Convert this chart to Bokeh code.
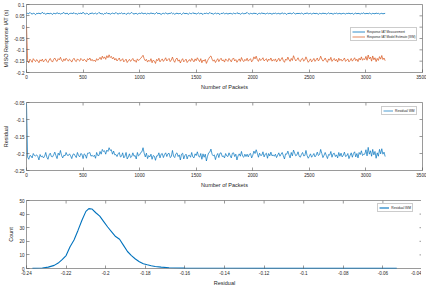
from bokeh.plotting import figure
from bokeh.layouts import column
from bokeh.models import FixedTicker, Range1d, Legend, LegendItem, ColumnDataSource
from bokeh.embed import file_html
from bokeh.resources import INLINE

# ---------------- data ----------------
packet_step = 10
estimate = [
    0.008, -0.150, -0.158, -0.141, -0.147, -0.155, -0.139, -0.146, -0.152, -0.143, -0.149, -0.157, -0.144, -0.150, -0.141, -0.153, -0.147, -0.140, -0.151, -0.156,
    -0.145, -0.138, -0.149, -0.154, -0.142, -0.136, -0.147, -0.151, -0.139, -0.144, -0.133, -0.146, -0.152, -0.140, -0.148, -0.137, -0.143, -0.150, -0.141, -0.146,
    -0.154, -0.143, -0.137, -0.148, -0.152, -0.140, -0.145, -0.150, -0.138, -0.143, -0.149, -0.141, -0.146, -0.153, -0.139, -0.144, -0.136, -0.148, -0.142, -0.150,
    -0.145, -0.152, -0.139, -0.146, -0.141, -0.133, -0.143, -0.128, -0.138, -0.131, -0.142, -0.126, -0.135, -0.122, -0.134, -0.129, -0.140, -0.133, -0.145, -0.138,
    -0.149, -0.143, -0.136, -0.150, -0.145, -0.139, -0.153, -0.147, -0.141, -0.156, -0.148, -0.142, -0.151, -0.144, -0.138, -0.150, -0.146, -0.155, -0.140, -0.147,
    -0.143, -0.137, -0.131, -0.124, -0.139, -0.148, -0.142, -0.154, -0.146, -0.151, -0.139, -0.157, -0.145, -0.150, -0.160, -0.142, -0.148, -0.137, -0.153, -0.146,
    -0.140, -0.151, -0.144, -0.135, -0.149, -0.143, -0.138, -0.152, -0.145, -0.132, -0.147, -0.155, -0.141, -0.136, -0.150, -0.144, -0.158, -0.146, -0.139, -0.153,
    -0.147, -0.141, -0.156, -0.149, -0.143, -0.151, -0.138, -0.146, -0.153, -0.140, -0.148, -0.135, -0.144, -0.152, -0.139, -0.157, -0.145, -0.150, -0.142, -0.160,
    -0.148, -0.139, -0.131, -0.127, -0.141, -0.150, -0.144, -0.156, -0.147, -0.139, -0.152, -0.143, -0.137, -0.149, -0.144, -0.154, -0.140, -0.146, -0.151, -0.138,
    -0.145, -0.153, -0.141, -0.136, -0.149, -0.143, -0.155, -0.147, -0.140, -0.151, -0.134, -0.146, -0.152, -0.142, -0.148, -0.137, -0.150, -0.144, -0.139, -0.153,
    -0.146, -0.131, -0.140, -0.128, -0.143, -0.151, -0.138, -0.147, -0.142, -0.135, -0.149, -0.144, -0.139, -0.152, -0.141, -0.146, -0.136, -0.150, -0.143, -0.148,
    -0.140, -0.153, -0.145, -0.137, -0.150, -0.142, -0.134, -0.148, -0.155, -0.141, -0.146, -0.132, -0.144, -0.151, -0.138, -0.147, -0.126, -0.139, -0.149, -0.143,
    -0.135, -0.147, -0.152, -0.141, -0.137, -0.150, -0.145, -0.131, -0.143, -0.155, -0.148, -0.140, -0.153, -0.146, -0.138, -0.151, -0.144, -0.136, -0.149, -0.142,
    -0.128, -0.141, -0.150, -0.145, -0.136, -0.148, -0.155, -0.140, -0.146, -0.133, -0.151, -0.144, -0.138, -0.149, -0.142, -0.154, -0.137, -0.147, -0.141, -0.150,
    -0.144, -0.136, -0.151, -0.146, -0.140, -0.153, -0.147, -0.138, -0.150, -0.143, -0.135, -0.148, -0.141, -0.152, -0.137, -0.145, -0.131, -0.146, -0.139, -0.143,
    -0.129, -0.146, -0.123, -0.140, -0.132, -0.150, -0.127, -0.144, -0.135, -0.152, -0.138, -0.147, -0.130, -0.141, -0.125, -0.143, -0.136, -0.148,
]
measurement = [
    0.060, 0.061, 0.059, 0.065, 0.060, 0.058, 0.061, 0.060, 0.055, 0.061, 0.060, 0.062, 0.059, 0.060, 0.066, 0.060, 0.061, 0.057, 0.060, 0.061,
    0.059, 0.061, 0.060, 0.056, 0.062, 0.060, 0.059, 0.064, 0.060, 0.061, 0.058, 0.060, 0.061, 0.065, 0.059, 0.060, 0.062, 0.056, 0.060, 0.061,
    0.061, 0.060, 0.064, 0.059, 0.060, 0.057, 0.061, 0.060, 0.062, 0.059, 0.066, 0.060, 0.058, 0.061, 0.060, 0.055, 0.061, 0.060, 0.063, 0.059,
    0.060, 0.062, 0.058, 0.060, 0.065, 0.061, 0.059, 0.060, 0.056, 0.061, 0.060, 0.064, 0.059, 0.061, 0.057, 0.060, 0.062, 0.060, 0.059, 0.065,
    0.060, 0.058, 0.061, 0.060, 0.063, 0.059, 0.060, 0.061, 0.056, 0.060, 0.062, 0.059, 0.061, 0.065, 0.060, 0.058, 0.060, 0.061, 0.057, 0.060,
    0.061, 0.060, 0.064, 0.059, 0.060, 0.062, 0.057, 0.061, 0.060, 0.059, 0.063, 0.060, 0.061, 0.058, 0.060, 0.065, 0.059, 0.061, 0.060, 0.056,
    0.060, 0.061, 0.059, 0.063, 0.060, 0.058, 0.061, 0.060, 0.064, 0.059, 0.061, 0.057, 0.060, 0.062, 0.059, 0.060, 0.061, 0.056, 0.060, 0.063,
    0.059, 0.061, 0.060, 0.057, 0.062, 0.060, 0.059, 0.064, 0.060, 0.061, 0.058, 0.060, 0.063, 0.059, 0.061, 0.060, 0.056, 0.061, 0.060, 0.062,
    0.060, 0.059, 0.065, 0.060, 0.061, 0.057, 0.060, 0.062, 0.059, 0.061, 0.060, 0.056, 0.061, 0.060, 0.063, 0.059, 0.060, 0.061, 0.058, 0.060,
    0.061, 0.060, 0.058, 0.062, 0.060, 0.059, 0.064, 0.060, 0.061, 0.057, 0.060, 0.062, 0.059, 0.060, 0.061, 0.065, 0.060, 0.058, 0.061, 0.060,
    0.059, 0.062, 0.060, 0.061, 0.056, 0.060, 0.061, 0.059, 0.063, 0.060, 0.061, 0.058, 0.060, 0.062, 0.059, 0.061, 0.060, 0.057, 0.061, 0.060,
    0.062, 0.059, 0.060, 0.061, 0.058, 0.060, 0.063, 0.059, 0.061, 0.060, 0.056, 0.061, 0.060, 0.062, 0.059, 0.060, 0.064, 0.060, 0.058, 0.061,
    0.060, 0.061, 0.059, 0.062, 0.060, 0.057, 0.061, 0.060, 0.063, 0.059, 0.060, 0.061, 0.058, 0.060, 0.062, 0.059, 0.061, 0.060, 0.057, 0.061,
    0.060, 0.059, 0.062, 0.060, 0.061, 0.058, 0.060, 0.063, 0.059, 0.061, 0.060, 0.057, 0.061, 0.060, 0.062, 0.059, 0.060, 0.061, 0.058, 0.060,
    0.061, 0.060, 0.058, 0.061, 0.060, 0.062, 0.059, 0.060, 0.061, 0.057, 0.060, 0.062, 0.059, 0.061, 0.060, 0.058, 0.061, 0.060, 0.063, 0.059,
    0.060, 0.061, 0.059, 0.062, 0.060, 0.058, 0.061, 0.060, 0.059, 0.062, 0.060, 0.061, 0.058, 0.060, 0.061, 0.059, 0.060, 0.061,
]
packets = [i * packet_step for i in range(len(estimate))]
residual = [e - m for e, m in zip(estimate, measurement)]

kde_x = [-0.237, -0.232, -0.229, -0.226, -0.224, -0.222, -0.220, -0.218, -0.216, -0.214, -0.212, -0.210, -0.2085,
         -0.207, -0.205, -0.203, -0.201, -0.199, -0.197, -0.195, -0.193, -0.191, -0.189, -0.187, -0.185, -0.183,
         -0.181, -0.179, -0.177, -0.175, -0.172, -0.168, -0.164, -0.160, -0.150, -0.140, -0.120, -0.100, -0.080,
         -0.060, -0.053]
kde_y = [0.1, 0.4, 1.0, 2.3, 4.0, 6.5, 9.5, 16, 21, 28, 35.5, 42, 44,
         43.8, 41, 38.5, 34.5, 30.5, 27, 23.5, 21.5, 17, 12.5, 9.5, 7, 5,
         3.5, 2.7, 2, 1.5, 1.0, 0.6, 0.4, 0.3, 0.2, 0.15, 0.12, 0.1, 0.1,
         0.1, 0.1]

pk_ticks = [0, 500, 1000, 1500, 2000, 2500, 3000, 3500]
p1_yticks = [-0.2, -0.15, -0.1, -0.05, 0, 0.05, 0.1]
p1_ylabels = ["-0.2", "-0.15", "-0.1", "-0.05", "0", "0.05", "0.1"]
p2_yticks = [-0.25, -0.2, -0.15, -0.1, -0.05]
p2_ylabels = ["-0.25", "-0.2", "-0.15", "-0.1", "-0.05"]
p3_xticks = [-0.24, -0.22, -0.2, -0.18, -0.16, -0.14, -0.12, -0.1, -0.08, -0.06, -0.04]
p3_xlabels = ["-0.24", "-0.22", "-0.2", "-0.18", "-0.16", "-0.14", "-0.12", "-0.1", "-0.08", "-0.06", "-0.04"]
p3_yticks = [0, 10, 20, 30, 40, 50]

BLUE = "#0072BD"
ORANGE = "#D95319"
AX = "#555555"
FONT = "Liberation Sans"

LEFT = 20
RIGHT = 4
FW = 396
FH = 68
TICK = 3  # px


def make_fig(xr, yr, top, bottom):
    p = figure(frame_width=FW, frame_height=FH, x_range=xr, y_range=yr, output_backend="svg",
               toolbar_location=None, min_border_top=top, min_border_bottom=bottom,
               min_border_left=LEFT, min_border_right=RIGHT)
    p.xgrid.visible = False
    p.ygrid.visible = False
    p.outline_line_color = AX
    p.outline_line_width = 0.6
    p.outline_line_alpha = 1
    p.background_fill_color = "white"
    p.border_fill_color = "white"
    return p


def style_axes(p, xticks, xlabels, yticks, ylabels, xlabel, ylabel):
    xt = FixedTicker(ticks=xticks)
    yt = FixedTicker(ticks=yticks)
    for ax, t, labs, lab in ((p.xaxis[0], xt, xlabels, xlabel), (p.yaxis[0], yt, ylabels, ylabel)):
        ax.ticker = t
        if labs is not None:
            ax.major_label_overrides = {v: s for v, s in zip(t.ticks, labs)}
        ax.axis_label = lab
        ax.axis_label_text_font = FONT
        ax.axis_label_text_font_size = "5.5px"
        ax.axis_label_text_font_style = "normal"
        ax.axis_label_text_color = "#262626"
        ax.axis_label_standoff = 2
        ax.major_label_text_font = FONT
        ax.major_label_text_font_size = "4.6px"
        ax.major_label_text_color = "#262626"
        ax.major_label_standoff = 2
        ax.major_tick_in = TICK
        ax.major_tick_out = 0
        ax.major_tick_line_color = AX
        ax.major_tick_line_width = 0.6
        ax.minor_tick_line_color = None
        ax.axis_line_color = None
    # mirrored box ticks on the top and right edges (MATLAB "box on" style)
    x0, x1 = p.x_range.start, p.x_range.end
    y0, y1 = p.y_range.start, p.y_range.end
    dy = (y1 - y0) * TICK / FH
    dx = (x1 - x0) * TICK / FW
    inner_x = [t for t in xticks if x0 < t < x1]
    inner_y = [t for t in yticks if y0 < t < y1]
    p.segment(x0=inner_x, y0=[y1] * len(inner_x), x1=inner_x, y1=[y1 - dy] * len(inner_x),
              line_color=AX, line_width=0.6)
    p.segment(x0=[x1] * len(inner_y), y0=inner_y, x1=[x1 - dx] * len(inner_y), y1=inner_y,
              line_color=AX, line_width=0.6)


def make_legend(p, items, loc, font_size, glyph_w, label_h):
    lg = Legend(items=items, location=loc, label_text_font=FONT, label_text_font_size=font_size,
                label_text_color="#262626", glyph_width=glyph_w, glyph_height=label_h, label_height=label_h,
                label_standoff=2, padding=1, spacing=0, margin=0,
                border_line_color="#999999", border_line_width=0.5,
                background_fill_color="white", background_fill_alpha=1)
    p.add_layout(lg)


# ---------- panel 1 ----------
src = ColumnDataSource(dict(x=packets, meas=measurement, est=estimate, res=residual))
p1 = make_fig(Range1d(0, 3500), Range1d(-0.2, 0.1), 4, 18)
r_meas = p1.line("x", "meas", source=src, color=BLUE, line_width=0.8)
r_est = p1.line("x", "est", source=src, color=ORANGE, line_width=0.7)
style_axes(p1, pk_ticks, None, p1_yticks, p1_ylabels, "Number of Packets", "MISO Response IAT (s)")
make_legend(p1, [LegendItem(label="Response IAT Measurement", renderers=[r_meas]),
                 LegendItem(label="Response IAT Model Estimate (WM)", renderers=[r_est])],
            (FW - 6 - 66, 31), "3px", 13, 5)

# ---------- panel 2 ----------
p2 = make_fig(Range1d(0, 3500), Range1d(-0.25, -0.05), 10, 18)
r_res = p2.line("x", "res", source=src, color=BLUE, line_width=0.7)
style_axes(p2, pk_ticks, None, p2_yticks, p2_ylabels, "Number of Packets", "Residual")
make_legend(p2, [LegendItem(label="Residual WM", renderers=[r_res])],
            (FW - 4 - 37, FH - 6 - 7), "3.3px", 10, 5)

# ---------- panel 3 ----------
p3 = make_fig(Range1d(-0.24, -0.04), Range1d(0, 50), 10, 18)
r_kde = p3.line(kde_x, kde_y, color=BLUE, line_width=1.1)
style_axes(p3, p3_xticks, p3_xlabels, p3_yticks, None, "Residual", "Count")
make_legend(p3, [LegendItem(label="Residual WM", renderers=[r_kde])],
            (FW - 4 - 37, FH - 5 - 7), "3.3px", 10, 5)

layout = column(p1, p2, p3, spacing=0)
open("out.html", "w").write(file_html(layout, INLINE))
